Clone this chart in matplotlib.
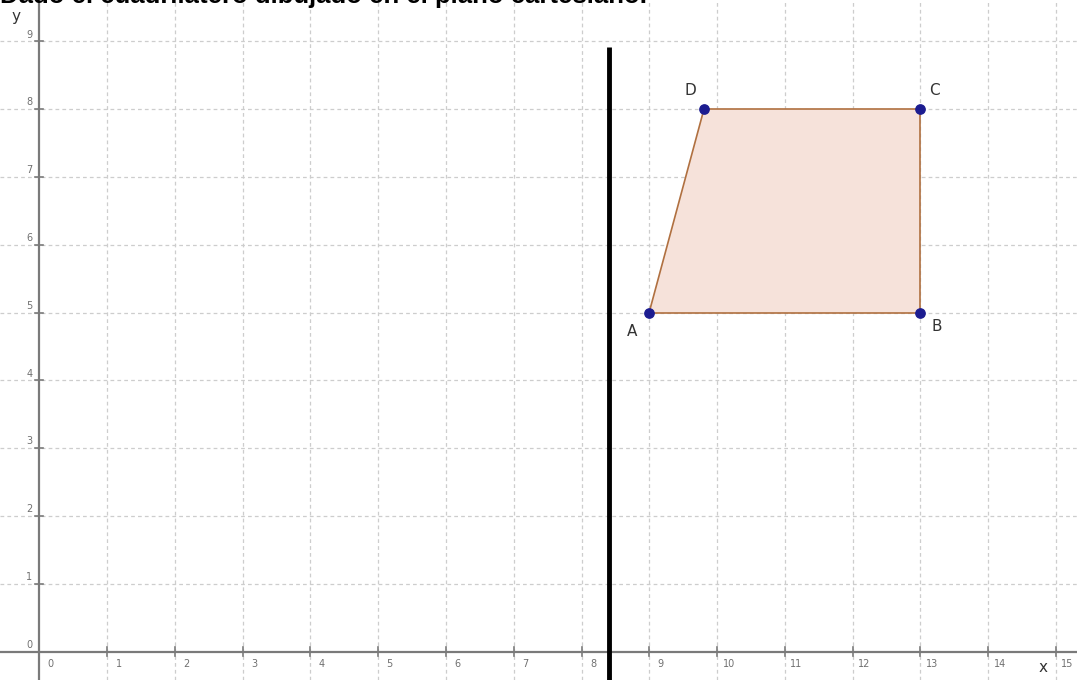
import numpy as np
import matplotlib.pyplot as plt
from matplotlib.patches import Polygon

# vertices of the quadrilateral ABCD
vertex_names = ["A", "B", "C", "D"]
vertex_x = [9, 13, 13, 9.8]
vertex_y = [5, 5, 8, 8]

# vertical black line
line_x = 8.4
line_y_top = 8.92

x_ticks = list(range(0, 16))
y_ticks = list(range(0, 10))

title_text = "Dado el cuadrilátero dibujado en el plano cartesiano."

fig = plt.figure(figsize=(10.77, 6.8), dpi=100)
ax = fig.add_axes([0, 0, 1, 1])
ax.set_xlim(-0.58, 15.31)
ax.set_ylim(-0.42, 9.61)
for s in ax.spines.values():
    s.set_visible(False)
ax.set_xticks([])
ax.set_yticks([])

grid_color = "#cdcdcd"
for xv in x_ticks[1:]:
    ax.axvline(xv, color=grid_color, lw=0.9, ls=(0, (3, 2.5)), zorder=1)
for yv in y_ticks[1:]:
    ax.axhline(yv, color=grid_color, lw=0.9, ls=(0, (3, 2.5)), zorder=1)

# axes
axis_color = "#7a7a7a"
ax.axhline(0, color=axis_color, lw=1.6, zorder=2)
ax.axvline(0, color=axis_color, lw=1.6, zorder=2)
tick_len = 0.06
for xv in x_ticks:
    ax.plot([xv, xv], [-tick_len, tick_len], color=axis_color, lw=1.2, zorder=2)
    ax.text(xv + 0.17, -0.19, str(xv), fontsize=7, color="#707070",
            ha="center", va="center", zorder=3)
for yv in y_ticks:
    ax.plot([-tick_len, tick_len], [yv, yv], color=axis_color, lw=1.2, zorder=2)
    ax.text(-0.15, yv + 0.1, str(yv), fontsize=7, color="#707070",
            ha="center", va="center", zorder=3)

ax.text(-0.35, 9.36, "y", fontsize=11, color="#333333", ha="center", va="center")
ax.text(14.81, -0.24, "x", fontsize=11, color="#333333", ha="center", va="center")

# quadrilateral
poly = Polygon(list(zip(vertex_x, vertex_y)), closed=True,
               facecolor="#f6e2da", edgecolor="#b07040", lw=1.2, zorder=4)
ax.add_patch(poly)
ax.scatter(vertex_x, vertex_y, s=45, color="#1c1c90", zorder=6)

label_offsets = {"A": (-0.25, -0.28), "B": (0.24, -0.2), "C": (0.2, 0.28), "D": (-0.2, 0.28)}
for name, xv, yv in zip(vertex_names, vertex_x, vertex_y):
    dx, dy = label_offsets[name]
    ax.text(xv + dx, yv + dy, name, fontsize=11, color="#333333",
            ha="center", va="center", zorder=7)

ax.plot([line_x, line_x], [-0.6, line_y_top], color="black", lw=3.5,
        solid_capstyle="butt", zorder=5)

# heading, cut off at the top edge as in the source picture
fig.text(0.0, 1 - 3 / 680, title_text, fontsize=18.5, family="Liberation Sans",
         fontweight="bold", color="black", ha="left", va="baseline")

fig.savefig("out.png", dpi=100)
